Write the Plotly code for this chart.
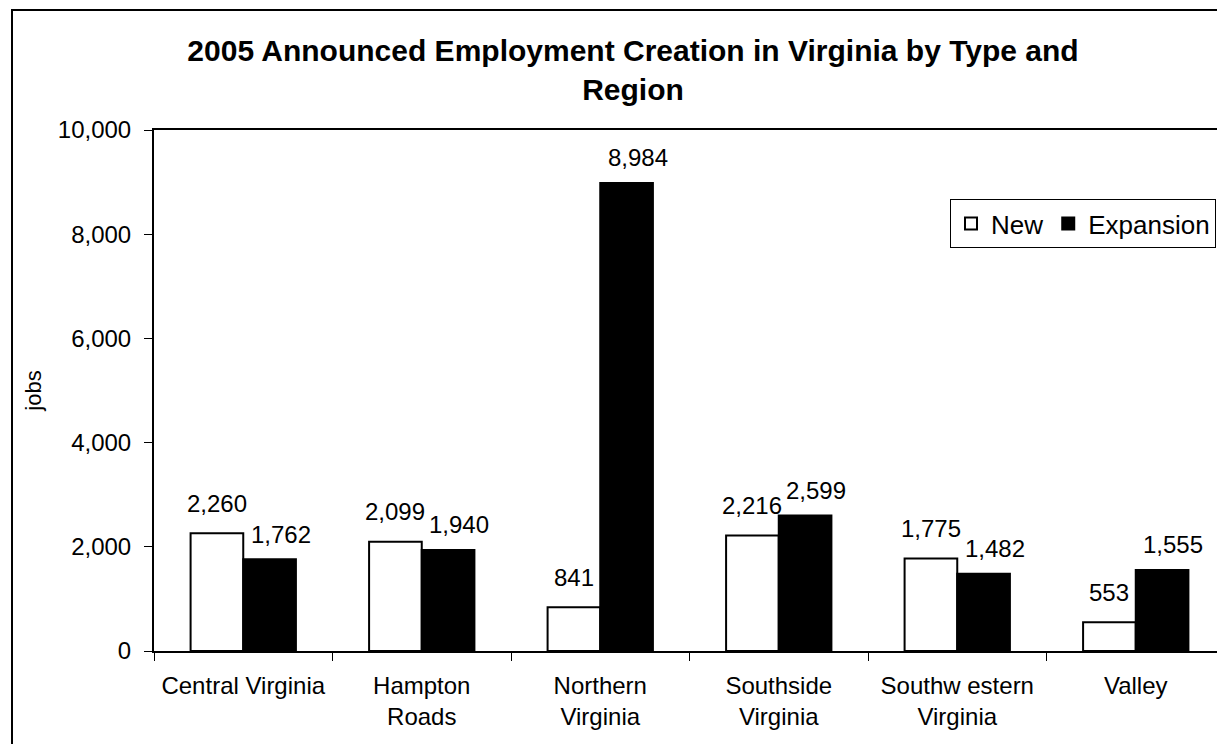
import plotly.graph_objects as go

categories = ["Central Virginia", "Hampton<br>Roads", "Northern<br>Virginia",
              "Southside<br>Virginia", "Southw estern<br>Virginia", "Valley"]
new_jobs = [2260, 2099, 841, 2216, 1775, 553]
expansion_jobs = [1762, 1940, 8984, 2599, 1482, 1555]
y_ticks = [0, 2000, 4000, 6000, 8000, 10000]

# page body has an 8px margin, so the figure is 8px smaller than the window
W, H = 1217, 736
L, R, T, B = 146, 0, 122, 93
pw = W - L - R
ph = H - T - B

def px_x(px):
    return (px - L) / pw

def px_y(py):
    return (H - B - py) / ph

FONT = "Arial, Liberation Sans, sans-serif"
FS = 24
BAR_GAP = 0.41
half_bar_px = pw / len(categories) * (1 - BAR_GAP) / 4

fig = go.Figure()
fig.add_trace(go.Bar(
    name="New", x=categories, y=new_jobs,
    marker=dict(color="white", line=dict(color="black", width=2)),
))
fig.add_trace(go.Bar(
    name="Expansion", x=categories, y=expansion_jobs,
    marker=dict(color="black", line=dict(color="black", width=2)),
))

annotations = []
for c, v in zip(categories, new_jobs):
    annotations.append(dict(x=c, y=v, xref="x", yref="y", text=f"{v:,}",
                            showarrow=False, xshift=-half_bar_px, yshift=30,
                            yanchor="middle", font=dict(family=FONT, size=FS, color="black")))
for c, v in zip(categories, expansion_jobs):
    annotations.append(dict(x=c, y=v, xref="x", yref="y", text=f"{v:,}",
                            showarrow=False, xshift=half_bar_px + 11, yshift=25,
                            yanchor="middle", font=dict(family=FONT, size=FS, color="black")))

fig.update_layout(
    width=W, height=H,
    margin=dict(l=L, r=R, t=T, b=B, pad=0),
    paper_bgcolor="white", plot_bgcolor="white",
    barmode="group", bargap=BAR_GAP, bargroupgap=0,
    font=dict(family=FONT, size=FS, color="black"),
    title=dict(
        text="<b>2005 Announced Employment Creation in Virginia by Type and<br>Region</b>",
        font=dict(family=FONT, size=30, color="black"),
        x=625 / W, xanchor="center", xref="container",
        y=1 - 53 / H, yanchor="top", yref="container",
    ),
    showlegend=True,
    legend=dict(
        orientation="h", x=px_x(1208), xanchor="right", y=px_y(191), yanchor="top",
        bordercolor="black", borderwidth=1, bgcolor="white",
        font=dict(family=FONT, size=26, color="black"),
        traceorder="normal",
    ),
    xaxis=dict(
        type="category", tickson="boundaries", ticks="outside", ticklen=8,
        tickwidth=1, tickcolor="black", ticklabelstandoff=12,
        showline=True, linecolor="black", linewidth=2, mirror=True,
        showgrid=False, tickfont=dict(family=FONT, size=FS, color="black"),
    ),
    yaxis=dict(
        range=[0, 10000], tickvals=y_ticks, tickformat=",", ticks="outside",
        ticklen=8, tickwidth=1, tickcolor="black", ticklabelstandoff=8,
        showline=True, linecolor="black", linewidth=2, mirror=False,
        showgrid=False, zeroline=False,
        title=dict(text="jobs", font=dict(family=FONT, size=22, color="black"), standoff=10),
        tickfont=dict(family=FONT, size=FS, color="black"),
    ),
    annotations=annotations,
    shapes=[
        dict(type="rect", xref="paper", yref="paper",
             x0=px_x(4), x1=px_x(1240), y0=px_y(760), y1=px_y(2),
             line=dict(color="black", width=2), fillcolor="rgba(0,0,0,0)", layer="above"),
    ],
)

fig.write_html("out.html")
